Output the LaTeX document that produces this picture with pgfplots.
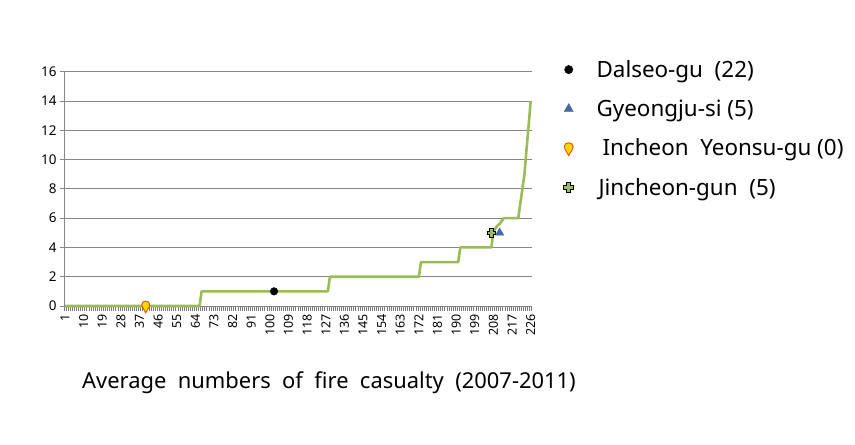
\documentclass[border=0pt]{standalone}
\usepackage{pgfplots}
\pgfplotsset{compat=1.18}
\usepackage{fontspec}
\setmainfont{Noto Sans}
\definecolor{lgreen}{RGB}{155,187,89}
\definecolor{tblue}{RGB}{68,104,164}
\definecolor{gridgray}{RGB}{134,134,134}
\definecolor{dropfill}{RGB}{255,214,0}
\definecolor{dropedge}{RGB}{230,80,20}
\pgfdeclareplotmark{drop}{%
 \pgfpathmoveto{\pgfqpoint{0pt}{-1.7\pgfplotmarksize}}%
 \pgfpathcurveto{\pgfqpoint{0.3\pgfplotmarksize}{-1\pgfplotmarksize}}{\pgfqpoint{\pgfplotmarksize}{-0.3\pgfplotmarksize}}{\pgfqpoint{\pgfplotmarksize}{0.4\pgfplotmarksize}}%
 \pgfpathcurveto{\pgfqpoint{\pgfplotmarksize}{1.5\pgfplotmarksize}}{\pgfqpoint{-\pgfplotmarksize}{1.5\pgfplotmarksize}}{\pgfqpoint{-\pgfplotmarksize}{0.4\pgfplotmarksize}}%
 \pgfpathcurveto{\pgfqpoint{-\pgfplotmarksize}{-0.3\pgfplotmarksize}}{\pgfqpoint{-0.3\pgfplotmarksize}{-1\pgfplotmarksize}}{\pgfqpoint{0pt}{-1.7\pgfplotmarksize}}%
 \pgfpathclose\pgfusepathqfillstroke}
\pgfdeclareplotmark{fatplus}{%
 \pgfpathmoveto{\pgfqpoint{0.4\pgfplotmarksize}{\pgfplotmarksize}}%
 \pgfpathlineto{\pgfqpoint{0.4\pgfplotmarksize}{0.4\pgfplotmarksize}}%
 \pgfpathlineto{\pgfqpoint{\pgfplotmarksize}{0.4\pgfplotmarksize}}%
 \pgfpathlineto{\pgfqpoint{\pgfplotmarksize}{-0.4\pgfplotmarksize}}%
 \pgfpathlineto{\pgfqpoint{0.4\pgfplotmarksize}{-0.4\pgfplotmarksize}}%
 \pgfpathlineto{\pgfqpoint{0.4\pgfplotmarksize}{-\pgfplotmarksize}}%
 \pgfpathlineto{\pgfqpoint{-0.4\pgfplotmarksize}{-\pgfplotmarksize}}%
 \pgfpathlineto{\pgfqpoint{-0.4\pgfplotmarksize}{-0.4\pgfplotmarksize}}%
 \pgfpathlineto{\pgfqpoint{-\pgfplotmarksize}{-0.4\pgfplotmarksize}}%
 \pgfpathlineto{\pgfqpoint{-\pgfplotmarksize}{0.4\pgfplotmarksize}}%
 \pgfpathlineto{\pgfqpoint{-0.4\pgfplotmarksize}{0.4\pgfplotmarksize}}%
 \pgfpathlineto{\pgfqpoint{-0.4\pgfplotmarksize}{\pgfplotmarksize}}%
 \pgfpathclose\pgfusepathqfillstroke}
\begin{document}
\begin{tikzpicture}
\path[use as bounding box] (0,0) rectangle (855bp,445bp);
\begin{axis}[
  at={(64bp,139bp)}, anchor=south west,
  scale only axis, width=467.7bp, height=234.3bp,
  xmin=0.5, xmax=226.5, ymin=0, ymax=16,
  axis x line*=bottom, axis y line*=left,
  axis line style={gridgray, -, line width=0.8bp},
  xtick={1,10,...,226},
  minor xtick={0.5,1.5,...,226.5},
  major x tick style={draw=none},
  minor x tick style={gridgray!90!black, line width=0.6bp},
  minor tick length=5bp,
  ytick={0,2,...,16},
  major y tick style={gridgray, line width=0.8bp},
  major tick length=4bp,
  tick align=outside,
  ymajorgrids, grid style={gridgray, line width=0.8bp},
  /pgf/number format/assume math mode=true,
  x tick label style={rotate=90, anchor=east, font=\fontsize{12.5}{12.5}\selectfont, xshift=-1bp},
  y tick label style={font=\fontsize{13.5}{14}\selectfont},
  legend style={at={(1.062,1.062)}, anchor=north west, draw=none, fill=none,
    font=\fontsize{22.5}{26}\selectfont, row sep=19bp, nodes={inner sep=1bp}},
  legend image post style={scale=1.1},
  legend cell align=left,
  clip=false,
]
\addplot[lgreen, line width=2.6bp, line join=round, forget plot] coordinates {
(1,0)(2,0)(3,0)(4,0)(5,0)(6,0)(7,0)(8,0)(9,0)(10,0)
(11,0)(12,0)(13,0)(14,0)(15,0)(16,0)(17,0)(18,0)(19,0)(20,0)
(21,0)(22,0)(23,0)(24,0)(25,0)(26,0)(27,0)(28,0)(29,0)(30,0)
(31,0)(32,0)(33,0)(34,0)(35,0)(36,0)(37,0)(38,0)(39,0)(40,0)
(41,0)(42,0)(43,0)(44,0)(45,0)(46,0)(47,0)(48,0)(49,0)(50,0)
(51,0)(52,0)(53,0)(54,0)(55,0)(56,0)(57,0)(58,0)(59,0)(60,0)
(61,0)(62,0)(63,0)(64,0)(65,0)(66,0)
(67,1)(68,1)(69,1)(70,1)(71,1)(72,1)(73,1)(74,1)(75,1)(76,1)
(77,1)(78,1)(79,1)(80,1)(81,1)(82,1)(83,1)(84,1)(85,1)(86,1)
(87,1)(88,1)(89,1)(90,1)(91,1)(92,1)(93,1)(94,1)(95,1)(96,1)
(97,1)(98,1)(99,1)(100,1)(101,1)(102,1)(103,1)(104,1)(105,1)(106,1)
(107,1)(108,1)(109,1)(110,1)(111,1)(112,1)(113,1)(114,1)(115,1)(116,1)
(117,1)(118,1)(119,1)(120,1)(121,1)(122,1)(123,1)(124,1)(125,1)(126,1)
(127,1)(128,1)
(129,2)(130,2)(131,2)(132,2)(133,2)(134,2)(135,2)(136,2)(137,2)(138,2)
(139,2)(140,2)(141,2)(142,2)(143,2)(144,2)(145,2)(146,2)(147,2)(148,2)
(149,2)(150,2)(151,2)(152,2)(153,2)(154,2)(155,2)(156,2)(157,2)(158,2)
(159,2)(160,2)(161,2)(162,2)(163,2)(164,2)(165,2)(166,2)(167,2)(168,2)
(169,2)(170,2)(171,2)(172,2)
(173,3)(174,3)(175,3)(176,3)(177,3)(178,3)(179,3)(180,3)(181,3)(182,3)
(183,3)(184,3)(185,3)(186,3)(187,3)(188,3)(189,3)(190,3)(191,3)
(192,4)(193,4)(194,4)(195,4)(196,4)(197,4)(198,4)(199,4)(200,4)(201,4)
(202,4)(203,4)(204,4)(205,4)(206,4)(207,4)
(208,5.1)(209,5.3)(210,5.5)(211,5.6)(212,5.8)
(213,6)(214,6)(215,6)(216,6)(217,6)(218,6)(219,6)(220,6)
(221,7)(222,8)(223,9)(224,10.7)(225,12.3)(226,14)
};
\addplot[only marks, mark=*, mark size=3.8bp, black] coordinates {(102,1)};
\addlegendentry{\hspace*{22bp}Dalseo-gu\ \ (22)}
\addplot[only marks, mark=triangle*, mark size=4.8bp, tblue] coordinates {(211,5)};
\addlegendentry{\hspace*{22bp}Gyeongju-si\ (5)}
\addplot[only marks, mark=drop, mark size=4bp, mark options={fill=dropfill, draw=dropedge, line width=0.9bp}] coordinates {(40,0)};
\addlegendentry{\hspace*{28bp}Incheon\ \ Yeonsu-gu\ (0)}
\addplot[only marks, mark=fatplus, mark size=4.4bp, mark options={fill=lgreen, draw=black, line width=0.8bp}] coordinates {(207,5)};
\addlegendentry{\hspace*{24bp}Jincheon-gun\ \ (5)}
\end{axis}
\node[font=\fontsize{22}{26}\selectfont] at (329bp,62bp) {Average\ \ numbers\ \ of\ \ fire\ \ casualty\ \ (2007-2011)};
\end{tikzpicture}
\end{document}
